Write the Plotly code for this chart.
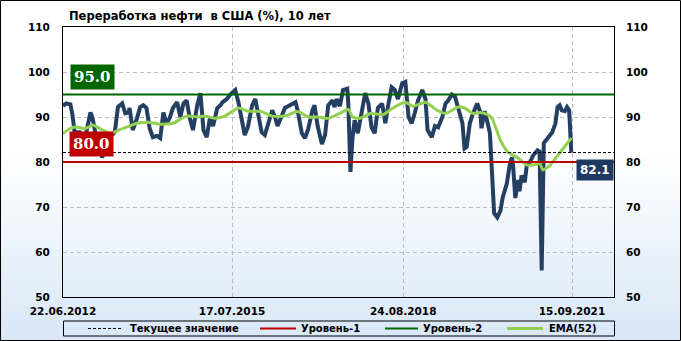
import datetime as dt
import plotly.graph_objects as go

# ---------------- data ----------------
START = dt.date(2012, 6, 22)
X_END = dt.date(2022, 6, 20)

week_idx = [0, 3, 7, 9, 11, 16, 21, 26, 28, 32, 37, 40, 44, 49, 52, 56, 59, 62, 63, 66,
            70, 73, 76, 79, 82, 85, 89, 92, 95, 98, 101, 104, 108, 111, 114, 117, 120, 123, 127, 130,
            133, 136, 139, 142, 146, 149, 151, 155, 158, 161, 163, 166, 169, 172, 175, 179, 182, 185, 188, 191,
            194, 198, 201, 203, 207, 210, 213, 217, 220, 222, 226, 229, 232, 236, 238, 241, 245, 248, 251, 255,
            257, 259, 262, 265, 269, 270, 272, 274, 276, 279, 283, 286, 289, 292, 295, 298, 302, 305, 308, 311,
            314, 317, 321, 324, 327, 330, 333, 336, 340, 343, 345, 349, 352, 355, 359, 362, 364, 368, 371, 374,
            378, 380, 382, 385, 388, 392, 395, 396, 399, 402, 404, 406, 408, 411, 414, 416, 420, 423, 425, 426,
            428, 431, 432, 434, 437, 439, 442, 445, 449, 451, 453, 455, 459, 463, 466, 468, 470, 472, 475, 477,
            479, 480, 481]
refining = [92.5, 93.0, 92.8, 90.4, 86.6, 86.6, 85.5, 91.0, 89.7, 84.8, 81.0, 82.6, 85.5, 86.6, 92.2, 93.0, 90.8, 91.0, 92.0, 87.1,
            89.7, 92.2, 92.6, 92.0, 87.5, 85.5, 85.8, 85.3, 91.0, 88.6, 89.8, 92.0, 93.3, 90.0, 93.0, 93.7, 89.7, 87.1, 92.6, 95.3,
            87.0, 85.5, 89.7, 88.0, 92.0, 92.6, 93.3, 94.0, 94.9, 95.5, 96.0, 93.3, 89.7, 86.0, 87.8, 92.6, 94.0, 90.0, 86.6, 86.0,
            88.5, 91.5, 89.7, 88.0, 90.2, 92.0, 92.4, 92.8, 93.3, 91.5, 86.4, 85.3, 87.3, 91.5, 92.6, 88.0, 84.0, 86.0, 92.6, 93.7,
            92.2, 94.0, 92.4, 96.0, 96.3, 93.0, 77.8, 85.5, 89.3, 86.4, 90.9, 95.3, 93.0, 87.7, 86.4, 92.0, 93.0, 88.6, 93.0, 96.6,
            96.0, 94.0, 97.5, 97.8, 90.0, 88.6, 91.0, 93.7, 96.0, 94.0, 87.1, 85.5, 88.0, 87.7, 90.0, 93.0, 93.5, 95.0, 94.5, 92.0,
            88.6, 83.0, 83.3, 88.6, 90.8, 93.0, 91.0, 87.5, 91.3, 88.5, 86.4, 77.5, 68.6, 67.7, 69.2, 72.0, 75.2, 79.7, 81.0, 79.0,
            72.0, 76.0, 73.5, 77.0, 75.5, 79.5, 80.0, 81.5, 82.6, 82.3, 55.9, 84.2, 85.5, 86.6, 88.6, 92.2, 92.6, 91.5, 91.3, 92.2,
            91.5, 86.4, 82.1]

ema_week_idx = [0, 7, 13, 21, 28, 38, 46, 54, 61, 70, 82, 92, 104, 117, 128, 134, 144, 153, 166, 175,
                188, 198, 210, 222, 232, 241, 251, 262, 270, 274, 281, 291, 303, 312, 324, 331, 343, 354, 362, 374,
                380, 388, 395, 402, 406, 414, 421, 430, 439, 449, 451, 454, 461, 470, 481]
ema52 = [86.3, 87.5, 87.8, 87.4, 88.2, 87.0, 86.4, 87.2, 87.8, 88.6, 88.8, 88.4, 88.6, 90.2, 90.0, 90.2, 89.7, 90.2, 92.0, 91.3,
         91.2, 90.2, 90.2, 91.2, 90.0, 90.0, 89.7, 90.8, 91.7, 90.0, 89.7, 90.8, 90.5, 92.0, 93.3, 92.4, 93.3, 91.5, 90.8, 92.2,
         92.0, 90.8, 91.0, 90.5, 89.7, 84.8, 82.2, 81.0, 79.3, 79.5, 80.0, 78.2, 79.3, 82.0, 85.3]

level_1 = 80.0
level_2 = 95.0
current_value = refining[-1]

tick_dates = ["2012-06-22", "2015-07-17", "2018-08-24", "2021-09-15"]
tick_labels = ["22.06.2012", "17.07.2015", "24.08.2018", "15.09.2021"]
y_ticks = [50, 60, 70, 80, 90, 100, 110]

title_text = "Переработка нефти  в США (%), 10 лет"
legend_names = ["Текущее значение", "Уровень-1", "Уровень-2", "EMA(52)"]

# ---------------- styling ----------------
W, H = 681, 341
ML, MR, MT, MB = 63, 67, 27, 44
PW, PH = W - ML - MR, H - MT - MB

NAVY = "#253F63"
EMA_C = "#92D050"
RED = "#C00000"
GREEN = "#006600"
GRID = "#BDBDBD"
FONT = "DejaVu Sans"


def px2x(px):
    return (px - ML) / PW


def py2y(py):
    return (H - MB - py) / PH


dates = [START + dt.timedelta(days=7 * w) for w in week_idx]
ema_dates = [START + dt.timedelta(days=7 * w) for w in ema_week_idx]
span = [START, X_END]

fig = go.Figure()

fig.add_trace(go.Scatter(x=dates, y=refining, mode="lines",
                         line=dict(color=NAVY, width=4), hoverinfo="skip", showlegend=False))
fig.add_trace(go.Scatter(x=span, y=[current_value] * 2, mode="lines", yaxis="y2",
                         line=dict(color="black", width=1, dash="3px,2px"), hoverinfo="skip", showlegend=False))
fig.add_trace(go.Scatter(x=span, y=[level_1] * 2, mode="lines", yaxis="y2",
                         line=dict(color=RED, width=2), hoverinfo="skip", showlegend=False))
fig.add_trace(go.Scatter(x=span, y=[level_2] * 2, mode="lines", yaxis="y2",
                         line=dict(color=GREEN, width=2), hoverinfo="skip", showlegend=False))
fig.add_trace(go.Scatter(x=ema_dates, y=ema52, mode="lines",
                         line=dict(color=EMA_C, width=3, shape="spline", smoothing=0.5),
                         hoverinfo="skip", showlegend=False))

tickfont = dict(family=FONT, size=10.5, color="black", weight="bold")

fig.update_layout(
    width=W, height=H, autosize=False,
    margin=dict(l=ML, r=MR, t=MT, b=MB, pad=0),
    paper_bgcolor="white",
    plot_bgcolor="rgba(0,0,0,0)",
    showlegend=False,
    xaxis=dict(type="date", range=span, tickvals=tick_dates, ticktext=tick_labels,
               showgrid=True, gridcolor=GRID, griddash="4px,3px", gridwidth=1,
               showline=True, linecolor="black", linewidth=1, mirror=True,
               ticks="", tickfont=tickfont, ticklabelstandoff=4, zeroline=False),
    yaxis=dict(range=[50, 110], tickvals=y_ticks, showgrid=True, gridcolor=GRID,
               griddash="4px,3px", gridwidth=1, showline=True, linecolor="black",
               linewidth=1, mirror=True, ticks="", tickfont=tickfont,
               ticklabelstandoff=10, zeroline=False),
    yaxis2=dict(range=[50, 110], tickvals=y_ticks, overlaying="y", side="right",
                showgrid=False, showline=False, ticks="", tickfont=tickfont,
                ticklabelstandoff=11, zeroline=False),
)

# background gradient (white -> light blue)
shapes = []
n = 48
x_l, x_r = px2x(0), px2x(W)
c_top = (255, 255, 255)
c_bot = (216, 231, 247)
for i in range(n):
    top_py = H * i / n
    bot_py = H * (i + 1) / n
    f = (i + 0.5) / n
    t = 0 if f < 0.45 else (f - 0.45) / 0.55
    col = tuple(round(c_top[k] + (c_bot[k] - c_top[k]) * t) for k in range(3))
    shapes.append(dict(type="rect", xref="paper", yref="paper", layer="below",
                       x0=x_l, x1=x_r, y0=py2y(bot_py + 0.5), y1=py2y(top_py),
                       line=dict(width=0), fillcolor="rgb(%d,%d,%d)" % col))
# outer frame
shapes.append(dict(type="rect", xref="paper", yref="paper", layer="above",
                   x0=px2x(0.5), x1=px2x(W - 0.5), y0=py2y(H - 0.5), y1=py2y(0.5),
                   line=dict(color="black", width=1), fillcolor="rgba(0,0,0,0)"))
# legend frame
shapes.append(dict(type="rect", xref="paper", yref="paper", layer="above",
                   x0=px2x(63.5), x1=px2x(614.5), y0=py2y(336), y1=py2y(321),
                   line=dict(color="black", width=1), fillcolor="rgba(0,0,0,0)"))

leg_y = py2y(328.5)
leg_items = [
    (88, 121, 128, dict(color="black", width=1, dash="3px,2px")),
    (260, 296, 299, dict(color=RED, width=2)),
    (385, 418, 421, dict(color=GREEN, width=2)),
    (507, 543, 547, dict(color=EMA_C, width=3)),
]
annotations = []
for (x0, x1, xt, ln), name in zip(leg_items, legend_names):
    shapes.append(dict(type="line", xref="paper", yref="paper", layer="above",
                       x0=px2x(x0), x1=px2x(x1), y0=leg_y, y1=leg_y, line=ln))
    annotations.append(dict(xref="paper", yref="paper", x=px2x(xt), y=leg_y,
                            xanchor="left", yanchor="middle", showarrow=False,
                            text=name, font=dict(family=FONT, size=10, color="black", weight="bold")))

# title
annotations.append(dict(xref="paper", yref="paper", x=px2x(67), y=py2y(16),
                        xanchor="left", yanchor="middle", showarrow=False,
                        text=title_text.replace("  ", "\u00a0 "),
                        font=dict(family=FONT, size=11.5, color="black", weight="bold")))

# level value boxes
serif = dict(family="DejaVu Serif", size=15, color="white", weight="bold")
annotations.append(dict(xref="paper", yref="y", x=px2x(70), y=level_2, xanchor="left",
                        yanchor="bottom", yshift=5, showarrow=False, text="%.1f" % level_2,
                        font=serif, bgcolor=GREEN, borderpad=3))
annotations.append(dict(xref="paper", yref="y", x=px2x(69), y=level_1, xanchor="left",
                        yanchor="bottom", yshift=5, showarrow=False, text="%.1f" % level_1,
                        font=serif, bgcolor=RED, borderpad=3))
annotations.append(dict(xref="paper", yref="y", x=1, y=current_value, xanchor="right",
                        yanchor="top", yshift=-6, showarrow=False, text="%.1f" % current_value,
                        font=dict(family=FONT, size=12, color="white", weight="bold"),
                        bgcolor="#1F3A60", borderpad=3))

fig.update_layout(shapes=shapes, annotations=annotations)

fig.write_html("out.html", config={"displayModeBar": False})
